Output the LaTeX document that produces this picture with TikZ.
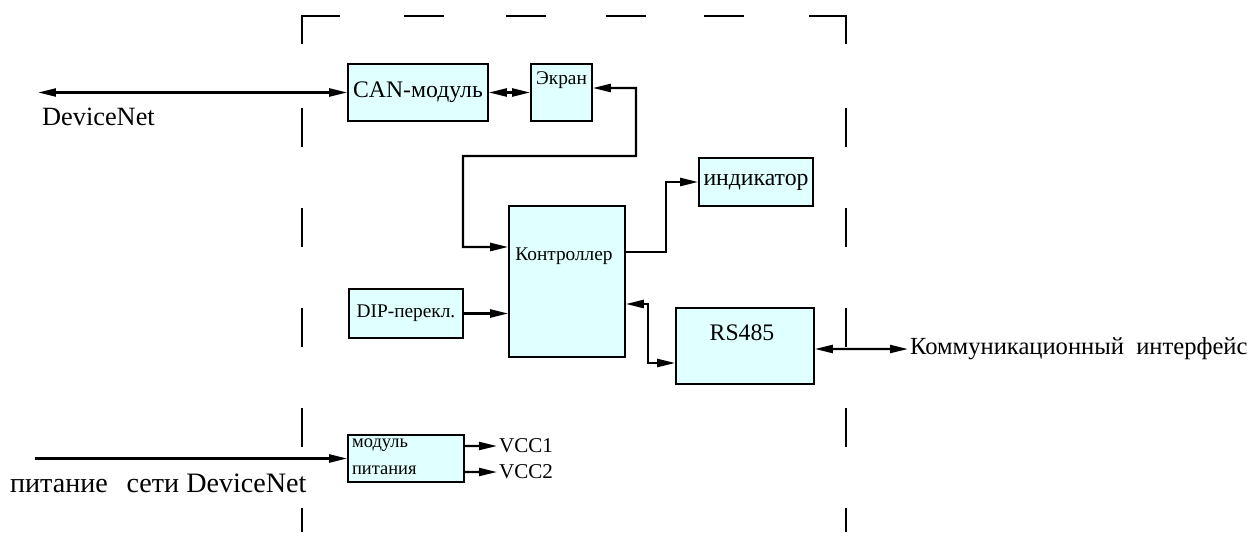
\documentclass[tikz,border=0pt]{standalone}
\usepackage{fontspec}
\setmainfont{Liberation Serif}
\usepackage{tikz}
\usetikzlibrary{arrows.meta,positioning,calc}
\definecolor{boxfill}{RGB}{224,255,255}
\tikzset{
  modul/.style={
    shape = rectangle,
    draw,
    fill = boxfill,
    line width = 0.9pt,
    inner sep = 0pt
  },
}
\tikzset{
  link/.style={
    line width = 1.3pt
  },
  dashline/.style={
    line width = 1.2pt
  },
  txtL/.style={
    font = \fontsize{15}{17}\selectfont,
    inner sep = 1pt
  },
  txtM/.style={
    font = \fontsize{13.5}{15}\selectfont,
    inner sep = 1pt
  },
  txtS/.style={
    font = \fontsize{11}{13}\selectfont,
    inner sep = 1pt
  },
  txtXS/.style={
    font = \fontsize{10.5}{12}\selectfont,
    inner sep = 1pt
  },
  >={Triangle[length=3.6mm,width=1.6mm]}
}

\begin{document}
\begin{tikzpicture}[x=0.02cm, y=-0.02cm]
        \useasboundingbox (0,0) rectangle (1253,535);
        % dashed frame
        \draw[dashline] (302,44) -- (302,16) -- (340,16);
        \draw[dashline] (809,16) -- (846,16) -- (846,44);
        \foreach \xa/\xb in {404/444,506/546,606/646,704/744}
            \draw[dashline] (\xa,16) -- (\xb,16);
        \foreach \ya/\yb in {108/147,208/247,308/347,408/447,508/532}{
            \draw[dashline] (302,\ya) -- (302,\yb);
            \draw[dashline] (846,\ya) -- (846,\yb);
        }
        \node[modul, txtM, minimum width=2.8cm, minimum height=1.14cm] (can) at (418,92.5) {CAN-модуль};
        \node[modul, minimum width=1.22cm, minimum height=1.14cm] (scr) at (561.5,92.5) {};
        \node[txtS] (scrt) at (561.5,80) {Экран};
        \node[modul, minimum width=2.32cm, minimum height=3.02cm] (ctrl) at (567,281.5) {};
        \node[txtS] (ctrlt) at (564,256) {Контроллер};
        \node[modul, txtM, minimum width=2.28cm, minimum height=0.96cm] (ind) at (756,182) {индикатор};
        \node[modul, txtS, minimum width=2.28cm, minimum height=0.98cm] (dip) at (406,313.5) {DIP-перекл.};
        \node[modul, minimum width=2.76cm, minimum height=1.52cm] (rs) at (745,346) {};
        \node[txtM] (rst) at (742,333) {RS485};
        \node[modul, minimum width=2.32cm, minimum height=0.94cm] (pwr) at (406,458.5) {};
        \node[txtXS, anchor=west] (pwrt1) at (350,445) {модуль};
        \node[txtXS, anchor=west] (pwrt2) at (350,470) {питания};
        \coordinate (dnet) at (38,92.5);
        \coordinate (pin) at (35,458.5);
        \node[txtL, anchor=west] (dnlbl) at (40,117) {DeviceNet};
        \node[txtL, font=\fontsize{16}{18}\selectfont, anchor=west] (pinlbl) at (8,483) {питание\ \ \,сети DeviceNet};
        \node[txtL, font=\fontsize{14}{16}\selectfont, anchor=west] (komm) at (908,349) {Коммуникационный\ \ интерфейс};
        \node[txtM, font=\fontsize{12}{14}\selectfont, anchor=west] (vcc1) at (497,446) {VCC1};
        \node[txtM, font=\fontsize{12}{14}\selectfont, anchor=west] (vcc2) at (497,472) {VCC2};
        \draw[link, <->] (dnet) -- (can.west);
        \draw[link, <->] (can.east) -- (scr.west);
        \draw[link, <->] ([yshift=0.09cm]scr.east) -- (636,88) -- (636,156) -- (463,156) |- ([yshift=0.69cm]ctrl.west);
        \draw[link, ->] ([yshift=0.59cm]ctrl.east) -- ++(40,0) |- (ind.west);
        \draw[link, ->] (dip.east) -- (dip.east -| ctrl.west);
        \draw[link, <->] ([yshift=-0.45cm]ctrl.east) -- ++(22,0) |- ([yshift=-0.34cm]rs.west);
        \draw[link, <->] ([yshift=-0.06cm]rs.east) -- (komm.west);
        \draw[link, ->] (pin) -- (pwr.west);
        \draw[link, ->] ([yshift=0.25cm]pwr.east) -- (vcc1.west);
        \draw[link, ->] ([yshift=-0.27cm]pwr.east) -- (vcc2.west);
\end{tikzpicture}
\end{document}
